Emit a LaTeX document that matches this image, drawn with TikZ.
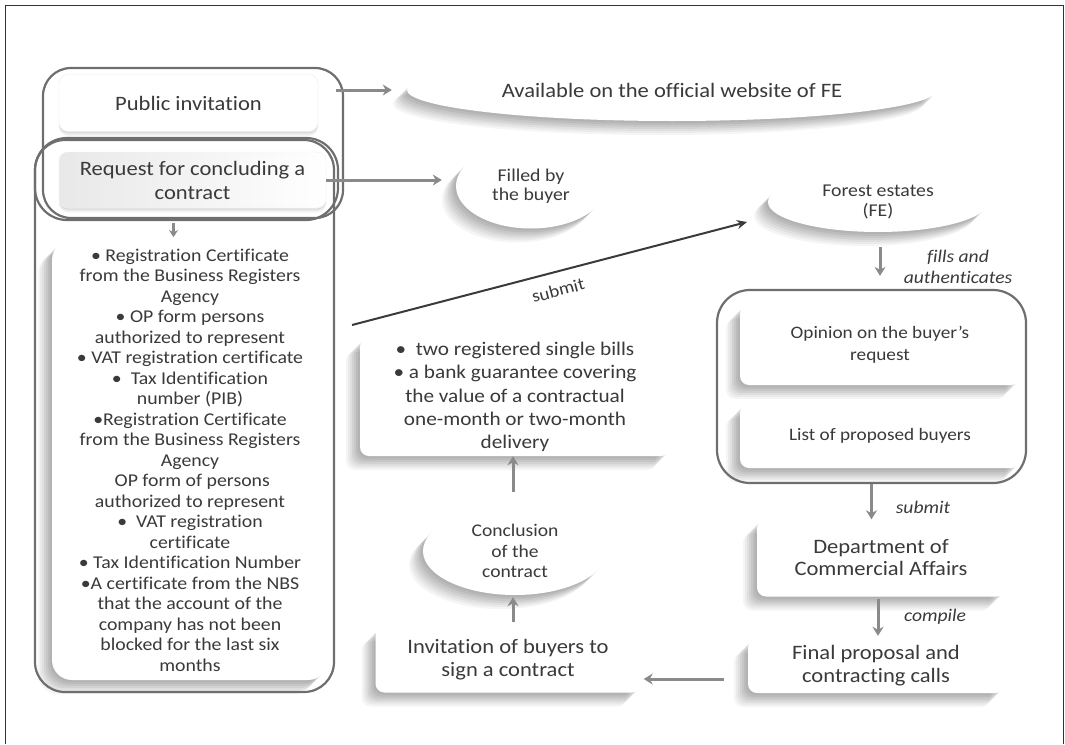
\documentclass[tikz,border=0pt]{standalone}
\usepackage{fontspec}
\setmainfont{Carlito}[FakeStretch=1.1,Ligatures=NoCommon]
\usetikzlibrary{shapes.geometric,shadows,calc,arrows.meta}
\definecolor{txt}{HTML}{3A3A3A}
\definecolor{arrc}{HTML}{8A8A8A}
\definecolor{outl}{HTML}{6E6E6E}
\tikzset{
  soft/.style={
    general shadow={fill=black,opacity=0.055,shadow xshift=-2pt,shadow yshift=-2pt},
    general shadow={fill=black,opacity=0.055,shadow xshift=-4pt,shadow yshift=-4pt},
    general shadow={fill=black,opacity=0.055,shadow xshift=-6pt,shadow yshift=-6pt},
    general shadow={fill=black,opacity=0.055,shadow xshift=-8pt,shadow yshift=-8pt},
    general shadow={fill=black,opacity=0.05,shadow xshift=-10pt,shadow yshift=-10pt},
    general shadow={fill=black,opacity=0.045,shadow xshift=-12pt,shadow yshift=-12pt},
    general shadow={fill=black,opacity=0.04,shadow xshift=-14pt,shadow yshift=-14pt}},
  softsmall/.style={
    general shadow={fill=black,opacity=0.06,shadow xshift=0pt,shadow yshift=-1.5pt},
    general shadow={fill=black,opacity=0.05,shadow xshift=0pt,shadow yshift=-3pt},
    general shadow={fill=black,opacity=0.04,shadow xshift=0pt,shadow yshift=-4.5pt}},
  box/.style={rectangle, rounded corners=9pt, fill=white, text=txt, align=center, inner sep=0pt},
  oval/.style={ellipse, fill=white, text=txt, align=center, inner sep=0pt},
  grp/.style={rectangle, draw=outl, line width=2.2pt, inner sep=0pt},
  arr/.style={draw=arrc, line width=3pt, -{Stealth[length=9pt,width=11pt]}},
  subarr/.style={draw=txt, line width=2pt, -{Stealth[length=10pt,width=9pt]}},
  lab/.style={text=txt, align=center, inner sep=0pt, font=\fontsize{17.8}{21}\selectfont\itshape},
}
\begin{document}
\begin{tikzpicture}[x=1pt,y=-1pt]
\useasboundingbox (0,0) rectangle (1065,744);
\draw[black!80, line width=1pt] (5.5,744) -- (5.5,5.5) -- (1063.5,5.5) -- (1063.5,744);

% boxes and ovals
\node[box, draw=black!8, softsmall, minimum width=259pt, minimum height=57pt,
      font=\fontsize{20.5}{24}\selectfont] (pub) at (188.5,103) {Public invitation};
\node[box, left color=black!9, right color=white, draw=black!6, softsmall, minimum width=267pt, minimum height=56pt,
      font=\fontsize{20.5}{24}\selectfont] (req) at (192.5,180) {Request for concluding a\\contract};
\node[box, soft, rounded corners=20pt, minimum width=276pt, minimum height=440pt,
      font=\fontsize{18}{20.5}\selectfont] (list) at (190,460)
 {• Registration Certificate\\ from the Business Registers\\ Agency\\ • OP form persons\\
  authorized to represent\\ • VAT registration certificate\\ •\ \ Tax Identification\\
  number (PIB)\\ •Registration Certificate\\ from the Business Registers\\ Agency\\
  \ OP form of persons\\ authorized to represent\\ •\ \ VAT registration\\ certificate\\
  • Tax Identification Number\\ •A certificate from the NBS\\ that the account of the\\
  company has not been\\ blocked for the last six\\ months};

\node[oval, soft, minimum width=530pt, minimum height=62pt,
      font=\fontsize{20.5}{24}\selectfont] (avail) at (672,90) {Available on the official website of FE};
\node[oval, soft, minimum width=150pt, minimum height=85pt,
      font=\fontsize{18}{18.5}\selectfont] (filled) at (531,186) {Filled by\\the buyer};
\node[oval, soft, minimum width=220pt, minimum height=60pt,
      font=\fontsize{18}{19.5}\selectfont] (FE) at (878,202) {Forest estates\\(FE)};

\node[box, soft, minimum width=310pt, minimum height=118pt,
      font=\fontsize{19.3}{23.3}\selectfont] (bills) at (515,397)
 {•\ \ two registered single bills\\ • a bank guarantee covering\\ the value of a contractual\\
  one-month or two-month\\ delivery};
\node[oval, soft, minimum width=184pt, minimum height=88pt,
      font=\fontsize{17.8}{20.7}\selectfont] (concl) at (515,551) {Conclusion\\of the\\contract};
\node[box, soft, minimum width=265pt, minimum height=65pt,
      font=\fontsize{20.5}{23}\selectfont] (invit) at (508,660) {Invitation of buyers to\\sign a contract};

\node[box, soft, minimum width=280pt, minimum height=80pt,
      font=\fontsize{17.5}{21.7}\selectfont] (opin) at (880,345) {Opinion on the buyer's\\request};
\node[box, soft, minimum width=280pt, minimum height=64pt,
      font=\fontsize{17.5}{21.7}\selectfont] (lpb) at (880,436) {List of proposed buyers};
\node[box, soft, minimum width=248pt, minimum height=77pt,
      font=\fontsize{20.5}{22}\selectfont] (dept) at (881,558) {Department of\\Commercial Affairs};
\node[box, soft, minimum width=256pt, minimum height=54pt,
      font=\fontsize{20.5}{23}\selectfont] (final) at (876,666) {Final proposal and\\contracting calls};

% group outlines
\node[grp, rounded corners=28pt, minimum width=300pt, minimum height=150pt] (grpA) at (193,143) {};
\node[grp, rounded corners=32pt, minimum width=303pt, minimum height=82pt] (grpR) at (186.5,179) {};
\node[grp, rounded corners=30pt, minimum width=299pt, minimum height=552pt] (grpL) at (184.5,416) {};
\node[grp, rounded corners=33pt, minimum width=309pt, minimum height=193pt] (grpB) at (871.5,386.5) {};

% connectors
\draw[arr] ($(grpA.east |- avail.west)+(-8,0)$) -- ($(avail.west)+(-15,0)$);
\draw[arr] (req.east) -- ($(req.east -| filled.west)+(-14,0)$);
\draw[arr, -{Stealth[length=7pt,width=9pt]}] ($(grpR.south)+(-13,2)$) -- ++(0,14);
\coordinate (s0) at (352,325);
\coordinate (s1) at (747,222);
\draw[subarr] (s0) -- node[sloped, below=8pt, text=txt, font=\fontsize{17.5}{20}\selectfont, pos=0.51] (sublab) {submit} (s1);
\draw[arr] ($(FE.south)+(2,15)$) -- ($(grpB.north)+(8.5,-13)$);
\node[lab] (fa) at (958,267) {fills and\\authenticates};
\draw[arr] (grpB.south) -- (grpB.south |- dept.north);
\node[lab] (sb2) at (923,507) {submit};
\draw[arr] ($(dept.south)+(-3,2)$) -- ($(dept.south |- final.north)+(-3,-3)$);
\node[lab] (cp) at (935,617) {compile};
\draw[arr] ($(final.west)+(-24,13)$) -- ($(invit.east |- final.west)+(3,13)$);
\draw[arr] ($(concl.south |- invit.north)+(-2,-5)$) -- ($(concl.south)+(-2,2)$);
\draw[arr] ($(concl.north)+(-2,-15)$) -- ($(concl.north |- bills.south)+(-2,0)$);
\end{tikzpicture}
\end{document}
